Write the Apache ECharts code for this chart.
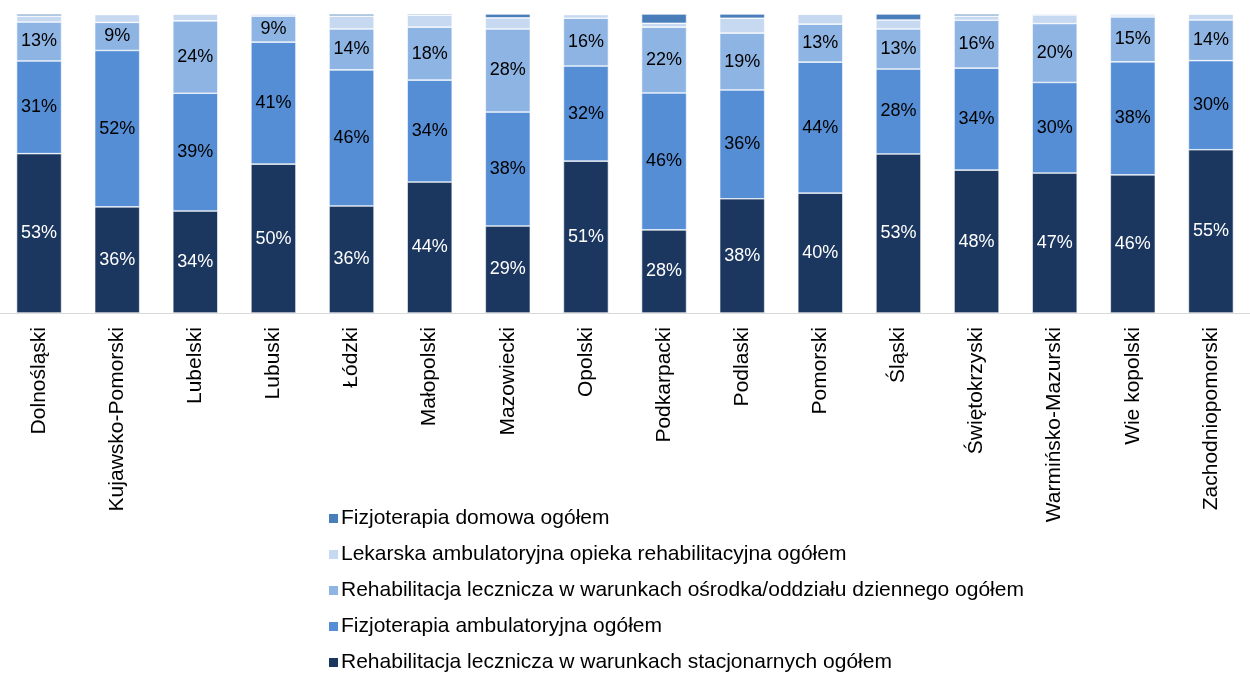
<!DOCTYPE html>
<html><head><meta charset="utf-8">
<script src="https://cdn.jsdelivr.net/npm/echarts@6/dist/echarts.min.js"></script>
<style>html,body{margin:0;padding:0;background:#fff}#c{width:1250px;height:673px}</style>
</head><body><div id="c"></div>
<script>
const categories = ['Dolnośląski','Kujawsko-Pomorski','Lubelski','Lubuski','Łódzki','Małopolski','Mazowiecki','Opolski','Podkarpacki','Podlaski','Pomorski','Śląski','Świętokrzyski','Warmińsko-Mazurski','Wie kopolski','Zachodniopomorski'];
const seriesNames = ['Rehabilitacja lecznicza w warunkach stacjonarnych ogółem','Fizjoterapia ambulatoryjna ogółem','Rehabilitacja lecznicza w warunkach ośrodka/oddziału dziennego ogółem','Lekarska ambulatoryjna opieka rehabilitacyjna ogółem','Fizjoterapia domowa ogółem'];
const stacjonarna = [53.3,35.5,34.1,49.8,35.8,43.8,29.1,50.8,27.8,38.2,40.1,53.2,47.8,46.8,46.2,54.6];
const ambulatoryjna = [31.0,52.3,39.4,40.8,45.5,34.1,38.1,31.8,45.8,36.4,43.8,28.4,34.1,30.3,37.8,29.8];
const dzienna = [13.0,9.4,24.2,8.7,13.7,17.7,27.8,16.0,22.0,19.0,12.7,13.4,16.0,19.7,15.0,13.6];
const lekarska = [2.0,2.6,2.3,0.7,4.3,4.0,3.7,1.2,1.3,5.0,3.3,3.0,1.4,2.9,0.7,2.0];
const domowa = [0.7,0.2,0.0,0.0,0.7,0.4,1.3,0.2,3.1,1.4,0.1,2.0,0.7,0.3,0.3,0.0];
const colors = ['#1c375f','#558ed5','#8eb4e3','#c6d9f1','#4a7ebb'];
const allData = [stacjonarna, ambulatoryjna, dzienna, lekarska, domowa];
const chart = echarts.init(document.getElementById('c'));
const font = 'Liberation Sans, Arial, sans-serif';
chart.setOption({
  animation:false,
  grid:{left:-1,width:1264,top:14,height:299,containLabel:false},
  legend:{orient:'vertical',left:322,top:503,height:200,itemWidth:11,itemHeight:11,itemGap:15,
    icon:'rect',data:[seriesNames[4],seriesNames[3],seriesNames[2],seriesNames[1],seriesNames[0]],
    textStyle:{fontFamily:font,fontSize:21,color:'#000',padding:[0,0,0,-3]}},
  xAxis:{type:'category',data:categories,
    axisLine:{lineStyle:{color:'#d9d9d9',width:1}},axisTick:{show:false},
    axisLabel:{rotate:90,interval:0,fontFamily:font,fontSize:21,color:'#000',margin:14}},
  yAxis:{type:'value',min:0,max:100,show:false},
  series: allData.map((d,i)=>({
    name:seriesNames[i],type:'bar',stack:'t',data:d,barWidth:45,
    itemStyle:{color:colors[i],borderColor:'#fff',borderWidth:0.6},
    label:{show:true,position:'inside',fontFamily:font,fontSize:18,color:i===0?'#fff':'#000',
      formatter:p=>p.value>=8?Math.round(p.value)+'%':''}
  }))
});
</script></body></html>
